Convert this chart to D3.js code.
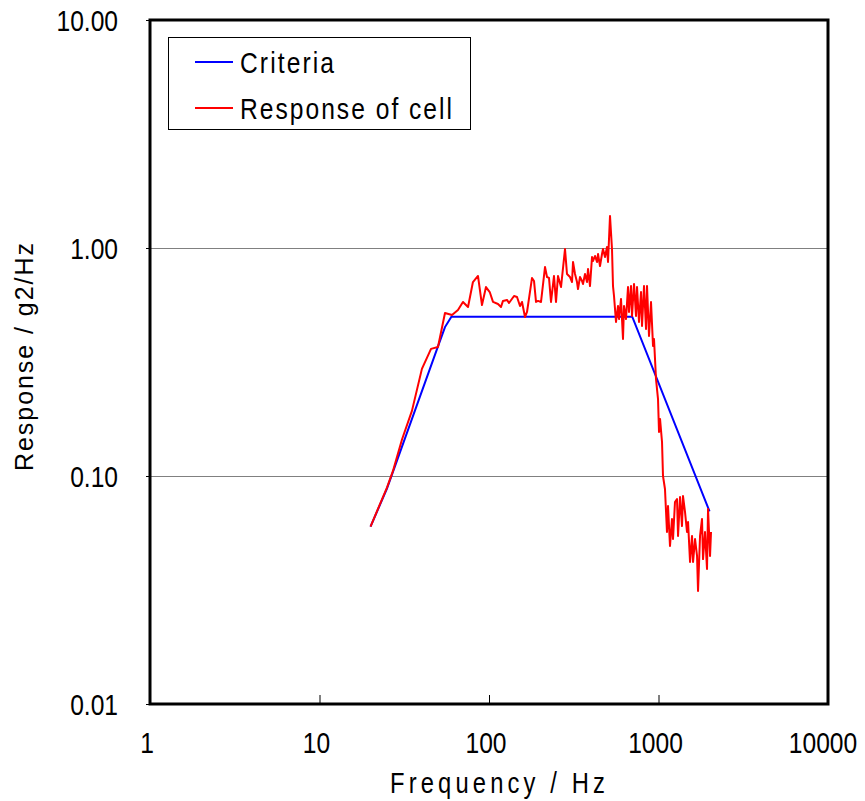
<!DOCTYPE html>
<html><head><meta charset="utf-8">
<script src="https://cdn.jsdelivr.net/npm/d3@7"></script>
<style>body{margin:0;background:#fff;} svg{display:block;}</style>
</head><body>
<svg id="chart" width="865" height="801"></svg>
<script>
// ---- data ----
const xTickValues = [1, 10, 100, 1000, 10000];
const xTickLabels = ["1", "10", "100", "1000", "10000"];
const yTickValues = [0.01, 0.1, 1, 10];
const yTickLabels = ["0.01", "0.10", "1.00", "10.00"];
const seriesNames = ["Criteria", "Response of cell"];

const criteriaFreq = [20, 25, 50, 55, 60, 700, 2000];
const criteriaVal  = [0.060, 0.088, 0.37, 0.45, 0.50, 0.50, 0.070];

const responseFreq = [20, 25, 27.1, 30.7, 35.1, 40.2, 45.5, 50, 55, 60.5, 65.6, 70.2, 75.2, 80.4, 86.1, 90.9, 96, 101, 105.6, 113,
  117.7, 120.9, 127.7, 131.2, 140.5, 146.3, 152.4, 156.6, 163.1, 167.6, 179.4, 184.3, 189.4, 194.6, 202.7, 214, 219.9, 225.9,
  232.2, 241.8, 248.5, 255.3, 266, 280.8, 288.5, 300.6, 308.9, 313.1, 321.7, 330.5, 335, 344.3, 353.8, 358.6, 368.5, 378.6,
  383.8, 394.4, 405.3, 410.9, 422.2, 433.8, 439.8, 451.8, 464.2, 470.6, 483.5, 496.8, 503.6, 517.5, 531.7, 539, 546.4, 561.5,
  576.9, 584.8, 600.9, 617.4, 625.9, 643.2, 660.9, 669.9, 688.4, 697.8, 717.1, 736.8, 746.9, 767.4, 788.6, 799.4, 821.4, 844,
  855.6, 879, 903.3, 928.2, 940.8, 966.7, 993.3, 1007, 1021, 1049, 1063, 1092, 1122, 1138, 1169, 1201, 1218, 1251, 1286, 1304,
  1340, 1376, 1395, 1434, 1473, 1494, 1535, 1577, 1599, 1643, 1688, 1711, 1758, 1806, 1831, 1881, 1933, 1960, 2014, 2041];
const responseVal = [0.060, 0.089, 0.105, 0.145, 0.193, 0.295, 0.361, 0.368, 0.519, 0.508, 0.535, 0.580, 0.551, 0.709, 0.754, 0.562, 0.674, 0.641, 0.580, 0.568,
  0.551, 0.586, 0.592, 0.574, 0.616, 0.610, 0.557, 0.580, 0.498, 0.524, 0.739, 0.717, 0.580, 0.586, 0.580, 0.825, 0.746, 0.739,
  0.580, 0.754, 0.580, 0.754, 0.674, 0.990, 0.769, 0.746, 0.709, 0.868, 0.769, 0.709, 0.661, 0.746, 0.717, 0.695, 0.769, 0.709,
  0.809, 0.681, 0.913, 0.877, 0.922, 0.868, 0.941, 0.834, 0.941, 0.990, 0.913, 1.010, 0.868, 1.382, 0.990, 0.681, 0.616, 0.474,
  0.557, 0.488, 0.598, 0.399, 0.557, 0.488, 0.674, 0.524, 0.681, 0.503, 0.695, 0.503, 0.674, 0.474, 0.641, 0.455, 0.681, 0.441,
  0.681, 0.411, 0.580, 0.372, 0.399, 0.266, 0.218, 0.156, 0.178, 0.141, 0.100, 0.0877, 0.0568, 0.0739, 0.0493, 0.0648, 0.0529, 0.0769, 0.0793, 0.0546,
  0.0809, 0.0603, 0.0817, 0.0695, 0.0568, 0.0628, 0.0420, 0.0546, 0.0420, 0.0529, 0.0446, 0.0313, 0.0546, 0.0648, 0.0432, 0.0568, 0.0391, 0.0717, 0.0446, 0.0568];

// ---- chart ----
const svg = d3.select("#chart");
const x = d3.scaleLog().domain([1, 10000]).range([150, 828]);
const y = d3.scaleLog().domain([0.01, 10]).range([704, 20]);
const FONT = "'Liberation Sans', Arial, sans-serif";
const SQUEEZE = 0.82;

// condensed text helper: glyphs squeezed horizontally, optional target width
function narrowText(parent, tx, ty, str, size, anchor, targetWidth) {
  const g = parent.append("g").attr("transform", `translate(${tx},${ty}) scale(${SQUEEZE},1)`);
  const t = g.append("text").attr("x", 0).attr("y", 0)
    .attr("text-anchor", anchor || "start")
    .style("font-family", FONT).style("font-size", size + "px").attr("fill", "#000").text(str);
  if (targetWidth) t.attr("textLength", targetWidth / SQUEEZE).attr("lengthAdjust", "spacing");
  return t;
}

// gridlines
svg.append("g").selectAll("line").data([0.1, 1]).join("line")
  .attr("x1", x(1)).attr("x2", x(10000))
  .attr("y1", d => Math.round(y(d)) + 0.5).attr("y2", d => Math.round(y(d)) + 0.5)
  .attr("stroke", "#808080").attr("stroke-width", 1);

// y axis ticks (outward)
const yAxis = d3.axisLeft(y).tickValues(yTickValues).tickSize(4).tickFormat(() => "");
const gy = svg.append("g").attr("transform", `translate(${x(1)},0)`).call(yAxis);
gy.select(".domain").remove();
gy.selectAll(".tick line").attr("stroke", "#000");
yTickValues.forEach((v, i) => narrowText(svg, 118, y(v) + 11, yTickLabels[i], 30, "end"));

// x axis ticks (inward)
const xAxis = d3.axisBottom(x).tickValues(xTickValues).tickSizeInner(-9).tickSizeOuter(0).tickFormat(() => "");
const gx = svg.append("g").attr("transform", `translate(0,${y(0.01)})`).call(xAxis);
gx.select(".domain").remove();
gx.selectAll(".tick line").attr("stroke", "#000");
xTickValues.forEach((v, i) => narrowText(svg, x(v) - (i === xTickValues.length - 1 ? 5 : 3), 753, xTickLabels[i], 30, "middle"));

// lines
const line = d3.line().x(d => x(d[0])).y(d => y(d[1]));
const crit = criteriaFreq.map((f, i) => [f, criteriaVal[i]]);
const resp = responseFreq.map((f, i) => [f, responseVal[i]]);
svg.append("path").datum(crit).attr("d", line).attr("fill", "none")
  .attr("stroke", "#0000FF").attr("stroke-width", 2);
svg.append("path").datum(resp).attr("d", line).attr("fill", "none")
  .attr("stroke", "#FF0000").attr("stroke-width", 2).attr("stroke-linejoin", "round");

// frame
svg.append("rect").attr("x", x(1)).attr("y", y(10))
  .attr("width", x(10000) - x(1)).attr("height", y(0.01) - y(10))
  .attr("fill", "none").attr("stroke", "#000").attr("stroke-width", 3);

// legend
const lg = svg.append("g");
lg.append("rect").attr("x", 168.5).attr("y", 37.5).attr("width", 302).attr("height", 92)
  .attr("fill", "#fff").attr("stroke", "#000").attr("stroke-width", 1);
const legendColors = ["#0000FF", "#FF0000"];
const legendWidths = [94, 212];
seriesNames.forEach((name, i) => {
  const ly = 62 + i * 46;
  lg.append("line").attr("x1", 195).attr("x2", 233).attr("y1", ly).attr("y2", ly)
    .attr("stroke", legendColors[i]).attr("stroke-width", 2);
  narrowText(lg, 240, ly + 11, name, 30, "start", legendWidths[i]);
});

// axis titles
narrowText(svg, 390, 793, "Frequency / Hz", 29, "start", 215);
svg.append("text").attr("transform", "translate(33,471) rotate(-90)")
  .attr("textLength", 228).attr("lengthAdjust", "spacing")
  .style("font-family", FONT).style("font-size", "25px").text("Response  /  g2/Hz");
</script>
</body></html>
